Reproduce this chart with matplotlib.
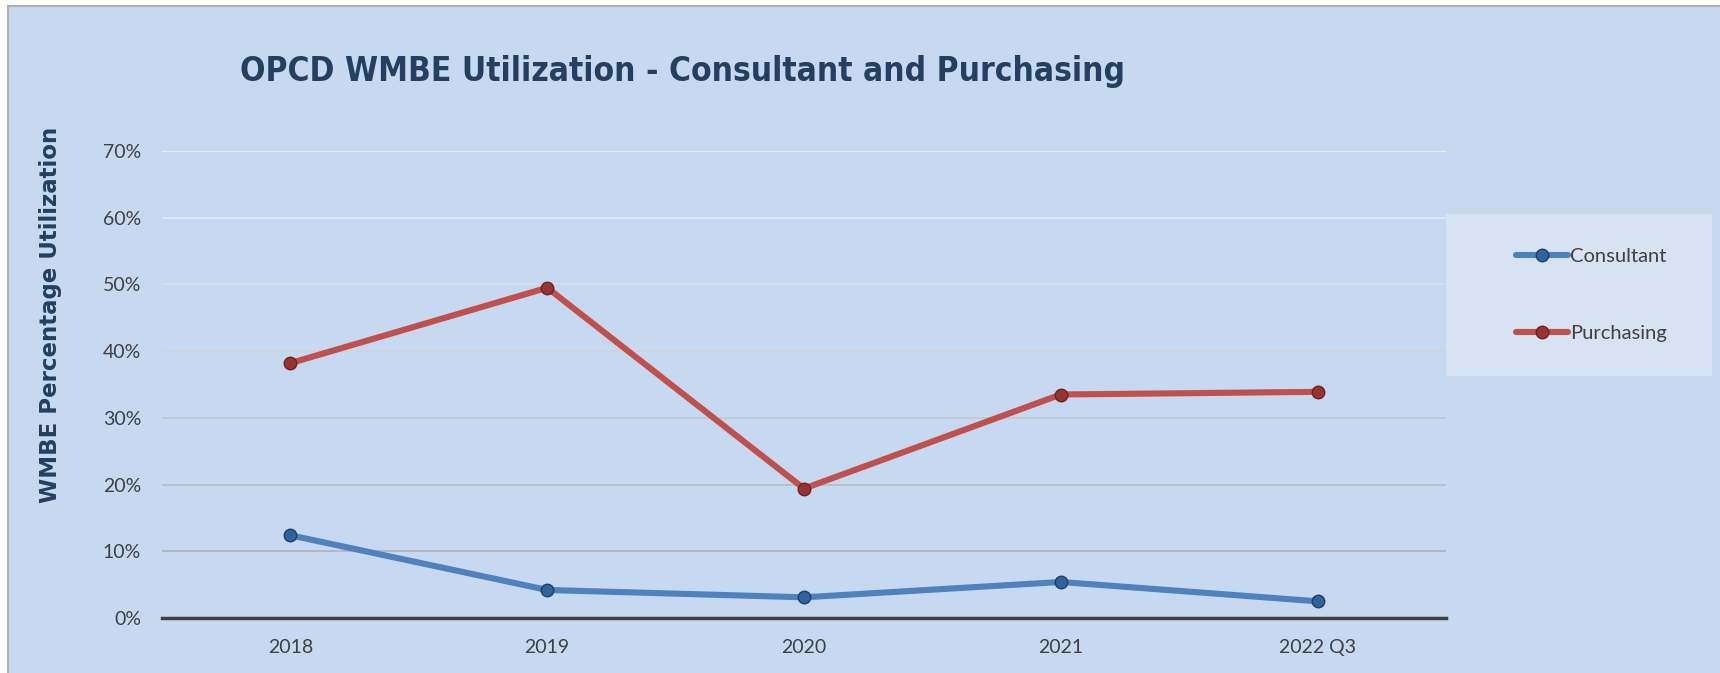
import matplotlib
matplotlib.use("Agg")
import matplotlib.pyplot as plt
from matplotlib.patches import Rectangle
from matplotlib.ticker import PercentFormatter

# ---------------- Data ----------------
years = ["2018", "2019", "2020", "2021", "2022 Q3"]
consultant = [0.124, 0.042, 0.031, 0.054, 0.025]
purchasing = [0.382, 0.495, 0.194, 0.335, 0.339]
y_ticks = [0.0, 0.1, 0.2, 0.3, 0.4, 0.5, 0.6, 0.7]

# ---------------- Style ----------------
BG = "#C6D9F0"
NAVY = "#243F60"
TICK_GRAY = "#404040"
BLUE, BLUE_DARK = "#4F81BD", "#2F639E"
RED, RED_DARK = "#C0504D", "#983532"
LABEL_FONT = ["Lato", "DejaVu Sans"]

fig = plt.figure(figsize=(17.2, 6.73), dpi=100, facecolor="white")

# chart area with thin gray border (white strip outside)
fig.patches.append(Rectangle((8 / 1720, -0.01), 1.02, 1 - 6 / 673 + 0.01,
                             transform=fig.transFigure, facecolor=BG,
                             edgecolor="#B0B0B0", linewidth=1.5, zorder=-2))
# legend background box
fig.patches.append(Rectangle((1446 / 1720, 1 - 376 / 673), (1712 - 1446) / 1720, (376 - 214) / 673,
                             transform=fig.transFigure, facecolor="#D7E3F2",
                             edgecolor="none", zorder=-1))

ax = fig.add_axes([162 / 1720, 1 - 618 / 673, (1446 - 162) / 1720, (618 - 151) / 673])
ax.patch.set_alpha(0)

x = list(range(len(years)))

# gridlines, lighter towards the top
for t in y_ticks[1:]:
    g = 0.64 + 0.3 * (t / 0.7)
    ax.axhline(t, color=(g, min(g * 1.02, 1), min(g * 1.05, 1)), linewidth=1.2, zorder=1)

ax.plot(x, purchasing, color=RED, linewidth=4.4, marker="o", markersize=9,
        markerfacecolor=RED_DARK, markeredgecolor="#6E2220", markeredgewidth=1,
        label="Purchasing", zorder=3, solid_capstyle="round")
ax.plot(x, consultant, color=BLUE, linewidth=4.4, marker="o", markersize=9,
        markerfacecolor=BLUE_DARK, markeredgecolor="#1F3F66", markeredgewidth=1,
        label="Consultant", zorder=3, solid_capstyle="round")

ax.set_xlim(-0.5, len(years) - 0.5)
ax.set_ylim(0, 0.7)
ax.set_yticks(y_ticks)
ax.yaxis.set_major_formatter(PercentFormatter(1.0, decimals=0))
ax.set_xticks(x)
ax.set_xticklabels(years)

for s in ["top", "right", "left"]:
    ax.spines[s].set_visible(False)
ax.spines["bottom"].set_color("#404040")
ax.spines["bottom"].set_linewidth(2.5)
ax.spines["bottom"].set_zorder(2)
ax.tick_params(axis="both", length=0, labelsize=14, labelcolor=TICK_GRAY)
ax.tick_params(axis="y", pad=15)
ax.tick_params(axis="x", pad=15)
for lbl in ax.get_xticklabels() + ax.get_yticklabels():
    lbl.set_family(LABEL_FONT)

fig.text(682 / 1720, 1 - 71 / 673, "OPCD WMBE Utilization - Consultant and Purchasing",
         ha="center", va="center", fontsize=24, fontweight="bold", color=NAVY,
         fontstretch="condensed")
fig.text(51 / 1720, 1 - 315 / 673, "WMBE Percentage Utilization", rotation=90,
         ha="center", va="center", fontsize=16.5, fontweight="bold", color=NAVY)

# legend (Consultant first)
handles, labels = ax.get_legend_handles_labels()
leg = fig.legend(handles[::-1], labels[::-1], loc="center left",
                 bbox_to_anchor=(1516 / 1720, 1 - 295 / 673),
                 prop={"family": LABEL_FONT, "size": 14.5}, labelspacing=3.0,
                 handlelength=2.6, handletextpad=0.1, borderpad=0,
                 borderaxespad=0, frameon=False)
for t in leg.get_texts():
    t.set_color(TICK_GRAY)

fig.savefig("out.png", dpi=100, facecolor=fig.get_facecolor())
